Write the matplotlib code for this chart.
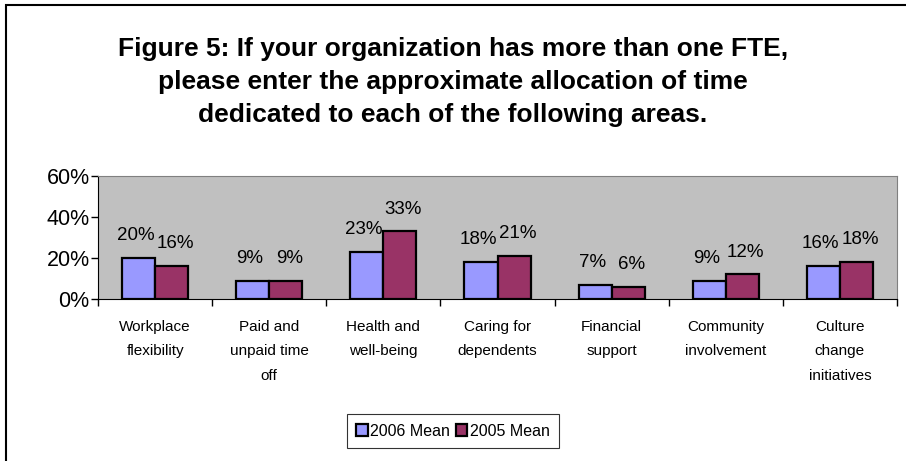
import numpy as np
import matplotlib.pyplot as plt
from matplotlib.patches import Rectangle

plt.rcParams['font.family'] = ['Liberation Sans', 'DejaVu Sans']

# Survey results: share of FTE time by area
areas = ['Workplace\nflexibility', 'Paid and\nunpaid time\noff', 'Health and\nwell-being',
         'Caring for\ndependents', 'Financial\nsupport', 'Community\ninvolvement',
         'Culture\nchange\ninitiatives']
mean_2006 = [20, 9, 23, 18, 7, 9, 16]
mean_2005 = [16, 9, 33, 21, 6, 12, 18]

fig = plt.figure(figsize=(9.06, 4.61), dpi=100)

# outer chart frame (only top and left edges fall inside the image)
fig.patches.append(Rectangle((6/906, -0.1), 1.2, 1 - 5/461 + 0.1, transform=fig.transFigure,
                             fill=False, edgecolor='black', linewidth=1.5))

fig.text(0.5, 1 - 82/461,
         'Figure 5: If your organization has more than one FTE,\n'
         'please enter the approximate allocation of time\n'
         'dedicated to each of the following areas.',
         ha='center', va='center', fontsize=19, fontweight='bold', linespacing=1.47)

ax = fig.add_axes([98/906, 1 - 299/461, 799/906, 123/461])
ax.set_facecolor('#C0C0C0')

x = np.arange(len(areas))
w = 0.29
b1 = ax.bar(x - w/2, mean_2006, w, color='#9999FF', edgecolor='black', linewidth=1.6,
            label='2006 Mean')
b2 = ax.bar(x + w/2, mean_2005, w, color='#993366', edgecolor='black', linewidth=1.6,
            label='2005 Mean')

# value labels, nudged apart so neighbouring pairs don't collide
for bars, vals, dx in ((b1, mean_2006, -2), (b2, mean_2005, 2.5)):
    for r, v in zip(bars, vals):
        ax.annotate(f'{v}%', (r.get_x() + r.get_width()/2, v), xytext=(dx, 16),
                    textcoords='offset points', ha='center', va='center', fontsize=13.5)

ax.set_xlim(-0.5, len(areas) - 0.5)
ax.set_ylim(0, 60)
ax.set_yticks([0, 20, 40, 60])
ax.set_yticklabels(['0%', '20%', '40%', '60%'], fontsize=15.5)
ax.tick_params(axis='y', direction='out', length=5, width=1, pad=1)

ax.set_xticks(np.arange(len(areas) + 1) - 0.5)
ax.set_xticklabels([])
ax.tick_params(axis='x', direction='out', length=5, width=1)
ax.set_xticks(x, minor=True)
ax.set_xticklabels(areas, minor=True, fontsize=11, linespacing=1.95, va='top')
ax.tick_params(axis='x', which='minor', length=0, pad=15)

for s in ('top', 'right'):
    ax.spines[s].set_color('#808080')
for s in ('left', 'bottom'):
    ax.spines[s].set_color('black')

leg = fig.legend(handles=[b1, b2], loc='center', bbox_to_anchor=(453/906, 1 - 431/461),
                 ncol=2, fontsize=11.5, frameon=True, fancybox=False, edgecolor='black',
                 handlelength=0.7, handleheight=0.7, handletextpad=0.15, columnspacing=0.4,
                 borderpad=0.6, borderaxespad=0)
leg.get_frame().set_linewidth(0.8)

fig.savefig('out.png', dpi=100)
